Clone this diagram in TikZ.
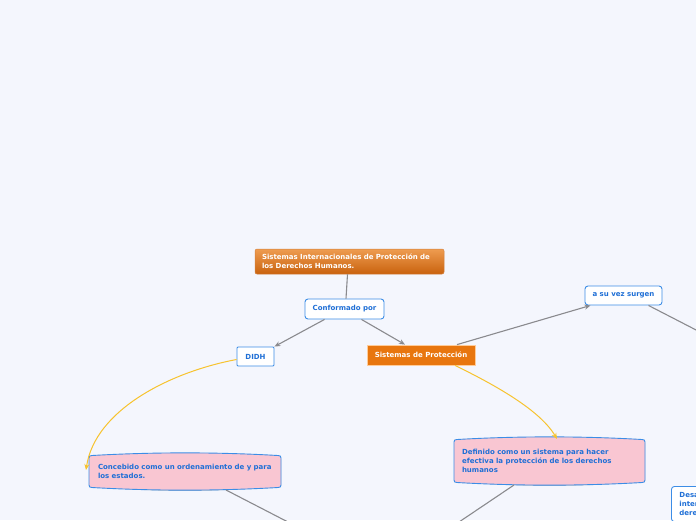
\documentclass[tikz,border=0pt]{standalone}
\usepackage{fontspec}
\setmainfont{DejaVu Sans}
\usetikzlibrary{arrows.meta,backgrounds}
\definecolor{bg}{HTML}{F4F6FD}
\definecolor{tblue}{HTML}{1F6FD6}
\definecolor{bblue}{HTML}{3C8DE6}
\definecolor{lgray}{HTML}{8A8A8E}
\definecolor{ylw}{HTML}{F7C32E}
\definecolor{pinkf}{HTML}{F9C6D2}
\definecolor{orng}{HTML}{E8760E}
\definecolor{orngl}{HTML}{EE9C50}
\definecolor{orngd}{HTML}{C9620E}
\newcommand\pinkshape[4]{%
  \fill[black!25]
  (#1,#2+6) -- (#3,#2+6) -- (#3,#4-4)
  .. controls ({#3-(#3-#1)/3},#4+2.5) and ({#1+(#3-#1)/3},#4+2.5) .. (#1,#4-4) -- cycle;
  \draw[draw=bblue, line width=0.9pt, fill=pinkf]
  (#1,#2+5) .. controls (#1,#2+3) and (#1+1,#2+2.5) .. (#1+3,#2+2.5)
  .. controls ({#1+(#3-#1)/3},#2-1) and ({#3-(#3-#1)/3},#2-1) .. (#3-3,#2+2.5)
  .. controls (#3-1,#2+2.5) and (#3,#2+3) .. (#3,#2+5)
  -- (#3,#4-5)
  .. controls (#3,#4-3) and (#3-1,#4-2.5) .. (#3-3,#4-2.5)
  .. controls ({#3-(#3-#1)/3},#4+1) and ({#1+(#3-#1)/3},#4+1) .. (#1+3,#4-2.5)
  .. controls (#1+1,#4-2.5) and (#1,#4-3) .. (#1,#4-5) -- cycle;}
\begin{document}
\begin{tikzpicture}[x=1pt,y=-1pt,
  every node/.style={font=\bfseries\fontsize{7}{9}\selectfont, inner sep=0pt},
  wbox/.style={draw=bblue, line width=0.9pt, fill=white, rounded corners=3pt, text=tblue, align=center},
  pinktext/.style={text=tblue, align=left},
  conn/.style={draw=lgray, line width=1.1pt},
  arr/.style={conn, -{Stealth[length=6pt,width=5pt]}},
  yarr/.style={draw=ylw, line width=1pt, -{Stealth[length=6pt,width=5pt]}},
  ]
\fill[bg] (0,0) rectangle (696,520);
\useasboundingbox (0,0) rectangle (696,520);

% nodes
\node[rounded corners=2pt, top color=orngl, bottom color=orngd, draw=orngd!80, line width=0.5pt,
      text=white, align=left, text width=175pt, inner xsep=7pt, minimum height=25pt]
  (root) at (349.5,261.5) {Sistemas Internacionales de Protección de\\los Derechos Humanos.};
\node[wbox, minimum width=79pt, minimum height=20pt] (conf) at (344.5,309) {Conformado por};
\node[wbox, rounded corners=1pt, minimum width=37pt, minimum height=19pt] (didh) at (255.5,356.5) {DIDH};
\node[fill=orng, draw=orange!40, line width=0.8pt, text=white, minimum width=108pt, minimum height=20pt]
  (sis) at (421,355) {Sistemas de Protección};
\node[wbox, minimum width=77pt, minimum height=19pt] (asv) at (623.5,295.5) {a su vez surgen};

\pinkshape{89}{453}{281}{490}
\node[pinktext, text width=174pt, inner xsep=9pt, minimum height=37pt] (conc) at (185,471.5)
  {Concebido como un ordenamiento de y para\\los estados.};
\pinkshape{454}{437}{645}{485}
\node[pinktext, text width=175pt, inner xsep=8pt, minimum height=48pt] (def) at (549.5,461)
  {Definido como un sistema para hacer\\efectiva la protección de los derechos\\humanos};

\node[wbox, anchor=north west, align=left, text width=44pt, inner xsep=8pt, inner ysep=6pt]
  (desa) at (671,486) {Desa\\inter\\dere\\};

% off-edge coordinates
\coordinate (e1) at (700,332);
\coordinate (e2) at (288,522);
\coordinate (e3) at (459,522);

% connectors
\draw[conn] ([xshift=-2pt]root.south) -- ([xshift=1.5pt]conf.north);
\draw[arr] ([xshift=-20pt]conf.south) -- (didh.north east);
\draw[arr] ([xshift=17pt]conf.south) -- ([xshift=-16pt]sis.north);
\draw[arr] ([xshift=36pt]sis.north) -- ([xshift=-33pt]asv.south);
\draw[conn] ([xshift=25pt]asv.south) -- (e1);
\draw[conn] ([xshift=41pt,yshift=-18.5pt]conc.center) -- (e2);
\draw[conn] ([xshift=-35.5pt,yshift=-24pt]def.center) -- (e3);
\draw[yarr] ([yshift=-3pt]didh.west) .. controls (170,372) and (95,410) .. (86,470);
\draw[yarr] ([xshift=34pt]sis.south) .. controls (495,385) and (540,410) .. (557,439);
\end{tikzpicture}
\end{document}
